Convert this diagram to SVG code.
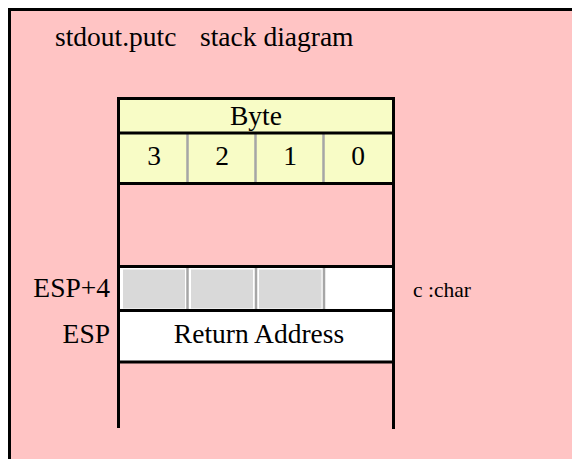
<svg xmlns="http://www.w3.org/2000/svg" width="572" height="459" viewBox="0 0 572 459">
<style>
text{font-family:"Liberation Serif","Times New Roman",serif;fill:#000;font-size:27.5px}
.c{text-anchor:middle}
.r{text-anchor:end}
.blk{stroke:#000;stroke-width:3;fill:none}
.div{stroke:#a6a6a6;stroke-width:2.5}
.cell{fill:#d9d9d9}
</style>
<g id="background">
<rect x="9.5" y="9.5" width="600" height="500" fill="#ffc4c4" stroke="#000" stroke-width="3"/>
<text x="55" y="46">stdout.putc</text>
<text x="200" y="46">stack diagram</text>
</g>
<g id="header">
<rect x="120" y="100" width="272" height="83" fill="#f8fcc6"/>
<text class="c" x="256" y="125">Byte</text>
<line class="div" x1="187.5" y1="134" x2="187.5" y2="183"/>
<line class="div" x1="255.5" y1="134" x2="255.5" y2="183"/>
<line class="div" x1="323.5" y1="134" x2="323.5" y2="183"/>
<text class="c" x="154" y="165">3</text>
<text class="c" x="222" y="165">2</text>
<text class="c" x="290" y="165">1</text>
<text class="c" x="358" y="165">0</text>
</g>
<g id="esp4">
<rect x="120" y="267" width="272" height="43" fill="#fff"/>
<rect class="cell" x="123" y="269.5" width="62" height="39"/>
<rect class="cell" x="191" y="269.5" width="62" height="39"/>
<rect class="cell" x="259" y="269.5" width="62.5" height="39"/>
<line class="div" x1="187.5" y1="267" x2="187.5" y2="310"/>
<line class="div" x1="256" y1="267" x2="256" y2="310"/>
<line class="div" x1="324" y1="267" x2="324" y2="310"/>
<text class="r" x="110" y="297">ESP+4</text>
<text x="413" y="297" style="font-size:21.5px">c :char</text>
</g>
<g id="esp">
<rect x="120" y="311" width="272" height="50" fill="#fff"/>
<text class="r" x="110" y="343">ESP</text>
<text class="c" x="259" y="343">Return Address</text>
</g>
<g id="connectors">
<line class="blk" x1="118.5" y1="97" x2="118.5" y2="428"/>
<line class="blk" x1="393.5" y1="97" x2="393.5" y2="429"/>
<line class="blk" x1="117" y1="98.5" x2="395" y2="98.5"/>
<line class="blk" x1="117" y1="133" x2="395" y2="133"/>
<line class="blk" x1="117" y1="183.5" x2="395" y2="183.5"/>
<line class="blk" x1="117" y1="266.5" x2="395" y2="266.5"/>
<line class="blk" x1="117" y1="310.5" x2="395" y2="310.5"/>
<line class="blk" x1="117" y1="362" x2="395" y2="362"/>
</g>
</svg>
